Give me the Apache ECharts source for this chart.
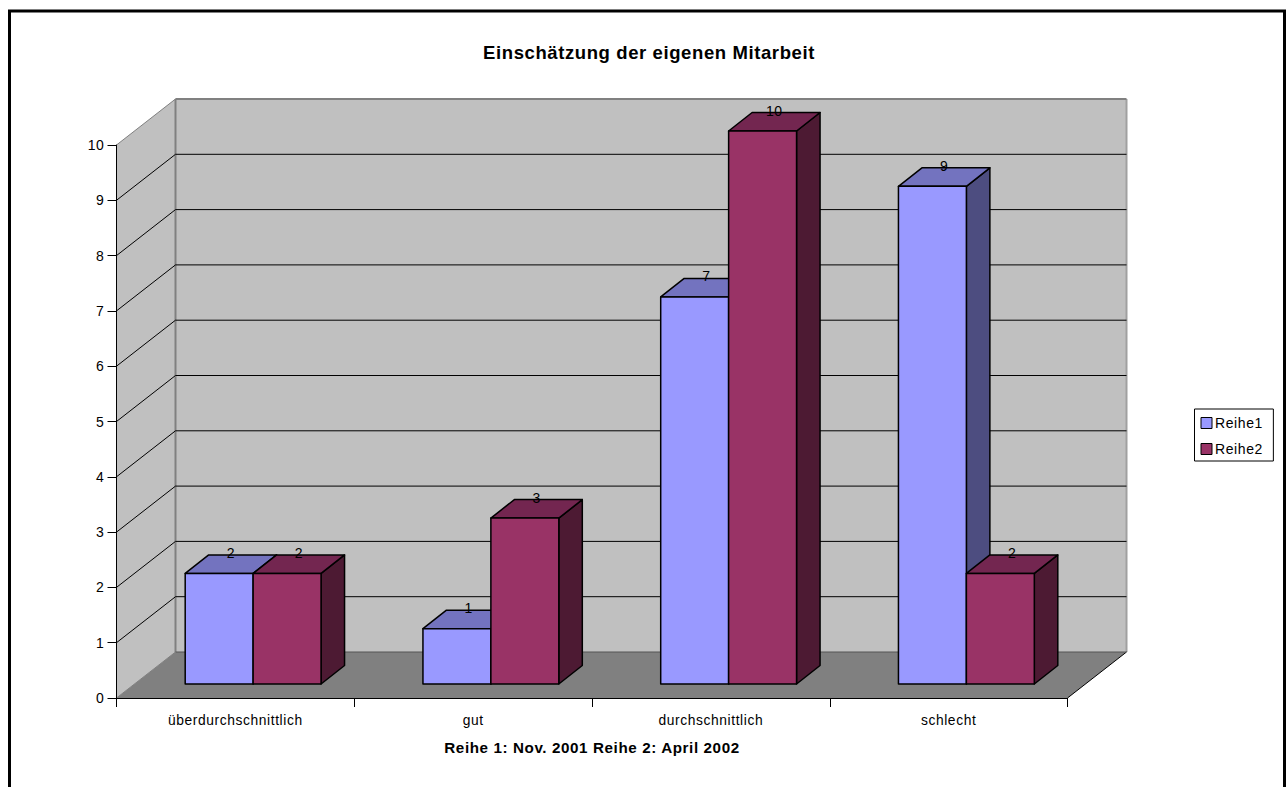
<!DOCTYPE html>
<html>
<head>
<meta charset="utf-8">
<style>
  html, body { margin: 0; padding: 0; background: #fff; overflow: hidden; }
  #chart { width: 1288px; height: 787px; }
  #chart svg text { letter-spacing: 0.6px; }
</style>
<script src="https://cdn.jsdelivr.net/npm/echarts@6/dist/echarts.min.js"></script>
</head>
<body>
<div id="chart"></div>
<script>
const categories = ['überdurchschnittlich', 'gut', 'durchschnittlich', 'schlecht'];
const reihe1 = [2, 1, 7, 9];
const reihe2 = [2, 3, 10, 2];
const yTicks = [0, 1, 2, 3, 4, 5, 6, 7, 8, 9, 10];

// Oblique projection of the depth axis, in pixels
const WALL_DX = 59, WALL_DY = 46;
const BAR_DX = 23.5, BAR_DY = 18.5;
const BAR_OFFSET_DX = 17.75, BAR_OFFSET_DY = 14;
const FONT = '"Liberation Sans", Arial, sans-serif';

// Walls, floor and gridlines are all projected from the axis scales
function renderWalls(params, api) {
  const v = api.value(1);
  const children = [];
  const bl = api.coord([0, 0]);
  const band = api.size([1, 0])[0];
  const x0 = bl[0] - band / 2;
  const x1 = x0 + band * categories.length;
  const y = api.coord([0, v])[1];
  if (v === 0) {
    const yTop = api.coord([0, 10])[1];
    children.push({
      type: 'polygon',
      shape: { points: [[x0, y], [x0 + WALL_DX, y - WALL_DY], [x0 + WALL_DX, yTop - WALL_DY], [x0, yTop]] },
      style: { fill: '#c0c0c0', stroke: null }
    });
    children.push({
      type: 'rect',
      shape: { x: x0 + WALL_DX, y: yTop - WALL_DY, width: band * categories.length, height: y - yTop },
      style: { fill: '#c0c0c0', stroke: null }
    });
    children.push({
      type: 'polygon',
      shape: { points: [[x0, y], [x1, y], [x1 + WALL_DX, y - WALL_DY], [x0 + WALL_DX, y - WALL_DY]] },
      style: { fill: '#808080', stroke: null }
    });
    children.push({
      type: 'line',
      shape: { x1: x0 + WALL_DX, y1: yTop - WALL_DY, x2: x0 + WALL_DX, y2: y - WALL_DY },
      style: { stroke: '#808080', lineWidth: 2 }
    });
    children.push({
      type: 'line',
      shape: { x1: x1 + WALL_DX, y1: yTop - WALL_DY, x2: x1 + WALL_DX, y2: y - WALL_DY },
      style: { stroke: '#a0a0a0', lineWidth: 2 }
    });
    children.push({
      type: 'line',
      shape: { x1: x1, y1: y, x2: x1 + WALL_DX, y2: y - WALL_DY },
      style: { stroke: '#000', lineWidth: 1 }
    });
  }
  const edge = v === 10 ? '#808080' : (v === 0 ? '#808080' : '#000');
  const back = v === 10 ? '#808080' : (v === 0 ? '#555' : '#000');
  children.push({
    type: 'line',
    shape: { x1: x0, y1: y, x2: x0 + WALL_DX, y2: y - WALL_DY },
    style: { stroke: edge, lineWidth: 1 }
  });
  children.push({
    type: 'line',
    shape: { x1: x0 + WALL_DX, y1: y - WALL_DY, x2: x1 + WALL_DX, y2: y - WALL_DY },
    style: { stroke: back, lineWidth: v === 10 ? 2 : 1 }
  });
  return { type: 'group', children: children, silent: true };
}

// One extruded column; slot 0 sits left of the band centre, slot 1 right of it
function makeBarRenderer(slot, front, top, side) {
  return function (params, api) {
    const i = api.value(0), v = api.value(1);
    const w = api.size([1, 0])[0] / 3.5;
    const base = api.coord([i, 0]);
    const head = api.coord([i, v]);
    const left = base[0] + (slot - 1) * w + BAR_OFFSET_DX;
    const right = left + w;
    const yb = base[1] - BAR_OFFSET_DY;
    const yt = head[1] - BAR_OFFSET_DY;
    const outline = { stroke: '#000', lineWidth: 1.5, lineJoin: 'round' };
    return {
      type: 'group',
      silent: true,
      children: [
        {
          type: 'polygon',
          shape: { points: [[right, yb], [right + BAR_DX, yb - BAR_DY], [right + BAR_DX, yt - BAR_DY], [right, yt]] },
          style: Object.assign({ fill: side }, outline)
        },
        {
          type: 'polygon',
          shape: { points: [[left, yt], [right, yt], [right + BAR_DX, yt - BAR_DY], [left + BAR_DX, yt - BAR_DY]] },
          style: Object.assign({ fill: top }, outline)
        },
        {
          type: 'rect',
          shape: { x: left, y: yt, width: w, height: yb - yt },
          style: Object.assign({ fill: front }, outline)
        },
        {
          type: 'text',
          style: {
            text: String(v),
            x: (left + right) / 2 + BAR_DX / 2,
            y: yt - BAR_DY - 2,
            fill: '#000',
            font: '14px ' + FONT,
            textAlign: 'center',
            textVerticalAlign: 'middle'
          }
        }
      ]
    };
  };
}

const chart = echarts.init(document.getElementById('chart'), null, { renderer: 'svg' });
chart.setOption({
  animation: false,
  backgroundColor: '#fff',
  title: {
    text: 'Einschätzung der eigenen Mitarbeit',
    left: 644,
    textAlign: 'center',
    top: 38,
    textStyle: { fontFamily: FONT, fontSize: 18.5, fontWeight: 'bold', color: '#000' }
  },
  legend: {
    data: [
      { name: 'Reihe1', itemStyle: { color: '#9999ff', borderColor: '#000', borderWidth: 1 } },
      { name: 'Reihe2', itemStyle: { color: '#993366', borderColor: '#000', borderWidth: 1 } }
    ],
    orient: 'vertical',
    left: 1194.5,
    top: 409,
    padding: [7, 14, 5, 6],
    itemWidth: 11,
    itemHeight: 11,
    itemGap: 12,
    itemStyle: {},
    icon: 'rect',
    borderColor: '#000',
    borderWidth: 1,
    textStyle: { fontFamily: FONT, fontSize: 14, color: '#000', padding: [0, 0, 0, -2] }
  },
  grid: { left: 116.5, right: 220.5, top: 145, bottom: 89, containLabel: false },
  xAxis: {
    type: 'category',
    data: categories,
    z: 3,
    name: 'Reihe 1: Nov. 2001 Reihe 2: April 2002',
    nameLocation: 'middle',
    nameGap: 42,
    nameTextStyle: { fontFamily: FONT, fontSize: 15.2, fontWeight: 'bold', color: '#000' },
    axisLine: { show: true, lineStyle: { color: '#000', width: 1 } },
    axisTick: { show: true, length: 9, lineStyle: { color: '#000' } },
    axisLabel: { fontFamily: FONT, fontSize: 13.8, color: '#000', margin: 15, interval: 0 },
    splitLine: { show: false }
  },
  yAxis: {
    type: 'value',
    min: 0,
    max: 10,
    interval: 1,
    z: 3,
    axisLine: { show: true, lineStyle: { color: '#000', width: 1 } },
    axisTick: { show: true, length: 9, lineStyle: { color: '#000' } },
    axisLabel: { fontFamily: FONT, fontSize: 14, color: '#000', margin: 12 },
    splitLine: { show: false }
  },
  series: [
    {
      name: 'Wand',
      type: 'custom',
      coordinateSystem: 'cartesian2d',
      renderItem: renderWalls,
      encode: { x: 0, y: 1 },
      data: yTicks.map(function (v) { return [0, v]; }),
      itemStyle: { color: '#c0c0c0' },
      silent: true
    },
    {
      name: 'Reihe1',
      type: 'custom',
      coordinateSystem: 'cartesian2d',
      renderItem: makeBarRenderer(0, '#9999ff', '#7373bf', '#4d4d80'),
      encode: { x: 0, y: 1 },
      data: reihe1.map(function (v, i) { return [i, v]; }),
      itemStyle: { color: '#9999ff' }
    },
    {
      name: 'Reihe2',
      type: 'custom',
      coordinateSystem: 'cartesian2d',
      renderItem: makeBarRenderer(1, '#993366', '#732650', '#4d1a33'),
      encode: { x: 0, y: 1 },
      data: reihe2.map(function (v, i) { return [i, v]; }),
      itemStyle: { color: '#993366' }
    }
  ],
  graphic: [
    {
      type: 'rect',
      silent: true,
      z: 10,
      shape: { x: 9.5, y: 11, width: 1275, height: 800 },
      style: { fill: null, stroke: '#000', lineWidth: 3 }
    }
  ]
});
</script>
</body>
</html>
